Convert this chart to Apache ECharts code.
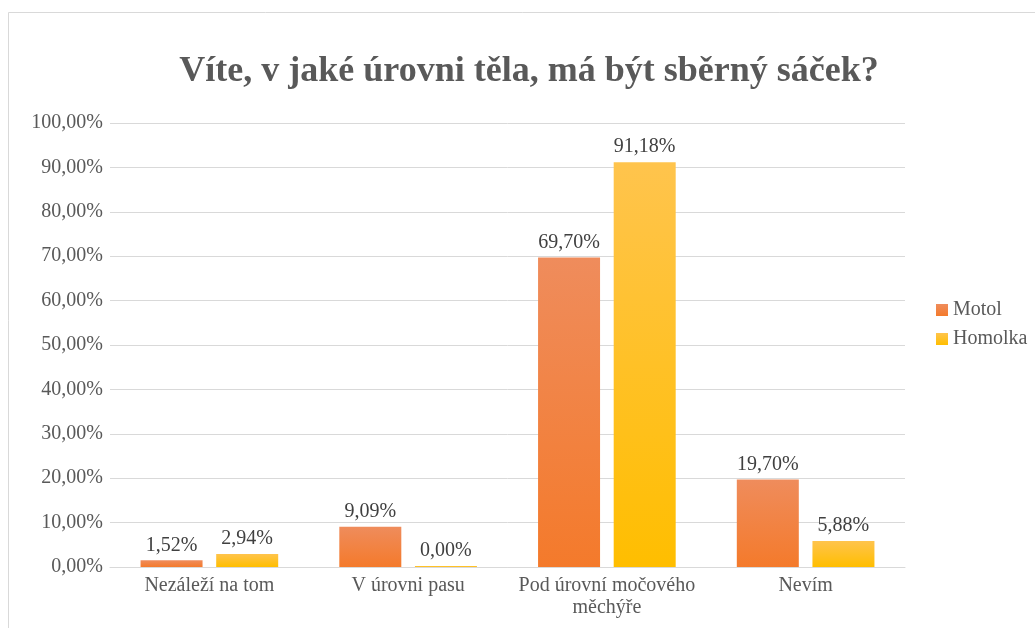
<!DOCTYPE html>
<html>
<head>
<meta charset="utf-8">
<script src="https://cdn.jsdelivr.net/npm/echarts@6/dist/echarts.min.js"></script>
<style>
  html, body { margin: 0; padding: 0; background: #fff; }
  #main { width: 1035px; height: 628px; }
</style>
</head>
<body>
<div id="main"></div>
<script>
var myChart = echarts.init(document.getElementById('main'));

// data
var categories = ['Nezáleží na tom', 'V úrovni pasu', 'Pod úrovní močového měchýře', 'Nevím'];
var motol = [1.52, 9.09, 69.70, 19.70];
var homolka = [2.94, 0.00, 91.18, 5.88];
var seriesNames = ['Motol', 'Homolka'];

var font = 'Liberation Serif, Times New Roman, serif';

function pct(v) {
  return v.toFixed(2).replace('.', ',') + '%';
}

// wrap category names word by word, max 20 chars a line
function wrap(s) {
  var lines = [], cur = '';
  s.split(' ').forEach(function (w) {
    if (cur && (cur + ' ' + w).length > 20) {
      lines.push(cur);
      cur = w;
    } else {
      cur = cur ? cur + ' ' + w : w;
    }
  });
  lines.push(cur);
  return lines.join('\n');
}

function grad(top, bottom) {
  return new echarts.graphic.LinearGradient(0, 0, 0, 1, [
    {offset: 0, color: top},
    {offset: 1, color: bottom}
  ]);
}

var barLabel = {
  show: true,
  position: 'top',
  distance: 5,
  fontFamily: font,
  fontSize: 20,
  color: '#404040',
  formatter: function (p) { return pct(p.value); }
};

var option = {
  animation: false,
  backgroundColor: '#fff',
  title: {
    text: 'Víte, v jaké úrovni těla, má být sběrný sáček?',
    left: 524,
    textAlign: 'center',
    top: 49,
    textStyle: {
      fontFamily: font,
      fontSize: 36,
      fontWeight: 'bold',
      color: '#595959'
    }
  },
  graphic: [{
    type: 'rect',
    shape: {x: 8.5, y: 12.5, width: 1200, height: 800},
    style: {fill: 'none', stroke: '#d9d9d9', lineWidth: 1},
    silent: true
  }],
  legend: {
    orient: 'vertical',
    left: 931,
    top: 295,
    itemWidth: 12,
    itemHeight: 12,
    itemGap: 9,
    icon: 'rect',
    textStyle: {fontFamily: font, fontSize: 20, color: '#595959'},
    data: seriesNames
  },
  grid: {
    left: 110,
    right: 130,
    top: 123,
    bottom: 61,
    outerBoundsMode: 'none'
  },
  xAxis: {
    type: 'category',
    data: categories,
    axisTick: {show: false},
    axisLine: {lineStyle: {color: '#d9d9d9', width: 1}},
    axisLabel: {
      fontFamily: font,
      fontSize: 20,
      color: '#595959',
      margin: 8,
      lineHeight: 22,
      interval: 0,
      formatter: wrap
    }
  },
  yAxis: {
    type: 'value',
    min: 0,
    max: 100,
    interval: 10,
    axisLine: {show: false},
    axisTick: {show: false},
    splitLine: {lineStyle: {color: '#d9d9d9', width: 1}},
    axisLabel: {
      fontFamily: font,
      fontSize: 20,
      color: '#595959',
      margin: 7,
      formatter: function (v) { return pct(v); }
    }
  },
  series: [{
    name: seriesNames[0],
    type: 'bar',
    data: motol,
    barWidth: 62,
    barGap: '22%',
    itemStyle: {color: grad('#ef8c5c', '#f47a2b')},
    label: barLabel
  }, {
    name: seriesNames[1],
    type: 'bar',
    data: homolka,
    barWidth: 62,
    barMinHeight: 1,
    itemStyle: {color: grad('#ffc44d', '#ffbe00')},
    label: barLabel
  }]
};

myChart.setOption(option);
</script>
</body>
</html>
